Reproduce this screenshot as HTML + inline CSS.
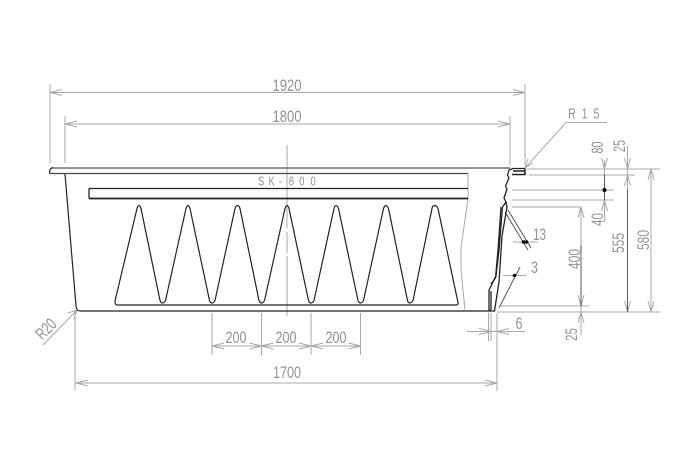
<!DOCTYPE html>
<html>
<head>
<meta charset="utf-8">
<style>
html,body{margin:0;padding:0;background:#fff;}
svg{display:block;}
text{font-family:"Liberation Sans",sans-serif;fill:#929292;font-size:17px;text-anchor:middle;}
</style>
</head>
<body>
<svg width="691" height="470" viewBox="0 0 691 470" xmlns="http://www.w3.org/2000/svg">
<rect width="691" height="470" fill="#fff"/>
<!-- dimension lines -->
<g stroke="#a8a8a8" stroke-width="1" fill="none">
  <path d="M50 84V163M50 92.5H525M525 84V165"/>
  <path d="M65 116V163M65 124H510M510 116V165"/>
  <path d="M50 92.5l12-3M50 92.5l12 3M525 92.5l-12-3M525 92.5l-12 3"/>
  <path d="M65 124l12-3M65 124l12 3M510 124l-12-3M510 124l-12 3"/>
  <path d="M607 122.5H566L525 168M525 168l3-9M525 168l8-5"/>
  <path d="M527 169H660M529 175H635M512 190H614M512 200H614M512 207H581M501 306H589M497 312H660"/>
  <path d="M75 312V390M497 313V391M75.500 383H497M76 383l12-3M76 383l12 3M497 383l-12-3M497 383l-12 3"/>
  <path d="M212 313V355M261.500 313V355M311 313V355M360.500 313V355M212 346H360.500"/>
  <path d="M212 346l12-3M212 346l12 3M261.500 346l-12-3M261.500 346l-12 3M261.500 346l12-3M261.500 346l12 3M311 346l-12-3M311 346l-12 3M311 346l12-3M311 346l12 3M360.500 346l-12-3M360.500 346l-12 3"/>
  <path d="M488.500 313V341M491 313V341M497 313V341M467 331.500H525"/>
  <path d="M491 331.500l-12-3M491 331.500l-12 3M497 331.500l12-3M497 331.500l12 3"/>
  <path d="M43 345L77 310M77 310l-9 3M77 310l-3 9"/>
  <path d="M604.500 160V222M604.500 169l-3-11M604.500 169l3-11M604.500 200l-3 11M604.500 200l3 11"/>
  <path d="M627.500 146V312M627.500 169l-3-11M627.500 169l3-11M627.500 175l-3 11M627.500 175l3 11M627.500 312l-3-11M627.500 312l3-11"/>
  <path d="M651 169V312M651 169l-3 11M651 169l3 11M651 312l-3-11M651 312l3-11"/>
  <path d="M581 207V335M581 207l-3 11M581 207l3 11M581 306l-3-11M581 306l3-11M581 312l-3 11M581 312l3 11"/>
  <path d="M513 242H538M503 275.500H526"/>
  <path d="M287 145V228M287 232V253M287 256V316"/>
  <path d="M468 174V199L461 248V270L465 310"/>
</g>
<g stroke="#555" stroke-width="1" fill="none">
  <path d="M627.500 190V312M581 245V306M604.500 175V200"/>
  <path d="M505 212L528 250M508 210L531 248M499 308L520 267"/>
</g>
<g fill="#000">
  <circle cx="604.500" cy="190" r="2"/>
  <circle cx="523.500" cy="242" r="1.800"/>
  <circle cx="526.500" cy="242" r="1.800"/>
  <circle cx="514.500" cy="275.500" r="1.800"/>
</g>
<!-- main body -->
<g stroke="#222" fill="none" stroke-linejoin="round">
  <path stroke-width="1.200" stroke="#555" d="M52 168H510"/>
  <path stroke-width="1.200" stroke="#444" d="M49.500 173.500H468"/>
  <path stroke-width="1.200" d="M49.500 173.500C49.500 170 50.500 168 53 167.500"/>
  <path stroke-width="1.200" d="M65 174L76 306Q76.500 311 80 311H491"/>
  <path stroke-width="1.300" d="M89 188.500H468M89 188.500V198.500"/>
  <path stroke-width="1.800" d="M89 198.500H468"/>
  <path stroke-width="1.200" d="M117 305H456Q458.500 305 458 302.500L438 208.500Q436.500 205.500 435 205.500L433.500 206Q432.500 206 432 208.500L413 300.500Q411 303 410 303Q408 303 407.500 300.500L388.500 208.500Q387 205.500 386 205.500Q384.500 205.500 383.500 208.500L363.500 300.500Q362 303 360.500 303Q359 303 358 300.500L338.500 208.500Q337 205.500 336 205.500Q335 205.500 334 208.500L314 300.500Q312.500 303 311 303Q309.500 303 308.500 300.500L289 208.500Q288 205.500 287 205.500Q286 205.500 285 208.500L264.500 300.500Q263 303 261.700 303Q260 303 259 300.500L240 208.500Q239 205.500 237.500 205.500Q236 205.500 235 208.500L215 300.500Q213.500 303 212 303Q210.500 303 209.500 300.500L190 208.500Q189 205.500 188 205.500Q187 205.500 186 208.500L165.500 300.500Q164 303 162.500 303Q161 303 160 300.500L141 208.500Q140 205.500 139 205.500Q138 205.500 137 208.500L115 301Q115 305 117 305Z"/>
  <path stroke-width="1.300" d="M525 168.500H513L509 170L507.500 175L509 178L505.500 186L507 189L504 198L506 202L502.500 207L499 250L496 276L489 290V310L491 311H494.500L499 282L502 236L507 207L506 202"/>
  <path stroke-width="1.300" d="M501 207L498 250L495.500 278L491 284"/>
  <path stroke-width="1.300" d="M491 291V310"/>
  <path stroke-width="1.500" d="M512 174.500H525V168.500M513 171H525"/>
</g>
<!-- labels -->
<text x="287" y="91" textLength="29" lengthAdjust="spacingAndGlyphs">1920</text>
<text x="287" y="122" textLength="29" lengthAdjust="spacingAndGlyphs">1800</text>
<text x="287" y="378" textLength="28" lengthAdjust="spacingAndGlyphs">1700</text>
<text transform="translate(258,185.500) scale(.75,1)" x="0 14 28 41 55 70" style="font-size:12.500px;text-anchor:start">SK-800</text>
<text x="236" y="343" textLength="21" lengthAdjust="spacingAndGlyphs">200</text>
<text x="286" y="343" textLength="21" lengthAdjust="spacingAndGlyphs">200</text>
<text x="336" y="343" textLength="21" lengthAdjust="spacingAndGlyphs">200</text>
<text transform="translate(568,118.500) scale(.75,1)" x="0 18 34" style="font-size:14.500px;text-anchor:start">R15</text>
<text x="519" y="329" textLength="7" lengthAdjust="spacingAndGlyphs">6</text>
<text x="534.500" y="273" textLength="7" lengthAdjust="spacingAndGlyphs">3</text>
<text x="539.500" y="240" textLength="13" lengthAdjust="spacingAndGlyphs">13</text>
<text transform="translate(603,147.500) rotate(-90)" textLength="12" lengthAdjust="spacingAndGlyphs">80</text>
<text transform="translate(625,146) rotate(-90)" textLength="12" lengthAdjust="spacingAndGlyphs">25</text>
<text transform="translate(603,219.500) rotate(-90)" textLength="13" lengthAdjust="spacingAndGlyphs">40</text>
<text transform="translate(580,259) rotate(-90)" textLength="20" lengthAdjust="spacingAndGlyphs">400</text>
<text transform="translate(624,243) rotate(-90)" textLength="20" lengthAdjust="spacingAndGlyphs">555</text>
<text transform="translate(649,240) rotate(-90)" textLength="20" lengthAdjust="spacingAndGlyphs">580</text>
<text transform="translate(577,334.500) rotate(-90)" textLength="13" lengthAdjust="spacingAndGlyphs">25</text>
<text transform="translate(50,333) rotate(-45)" textLength="22" lengthAdjust="spacingAndGlyphs">R20</text>
</svg>
</body>
</html>
